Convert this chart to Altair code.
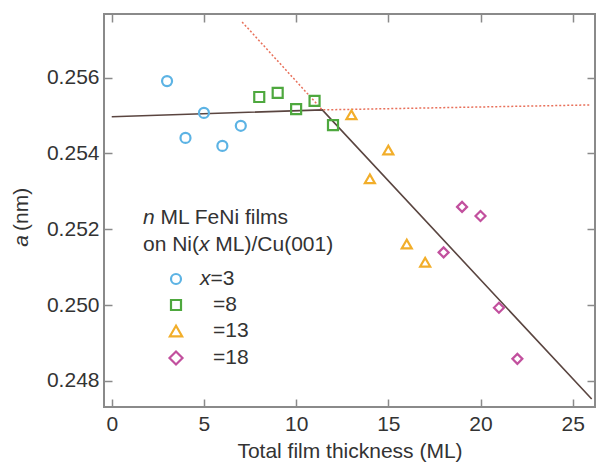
import altair as alt
import pandas as pd

# ---------------- data ----------------
series_labels = ["x=3", "=8", "=13", "=18"]

thickness_x3 = [3, 4, 5, 6, 7]
a_x3 = [0.25591, 0.25441, 0.25507, 0.25420, 0.25473]
thickness_x8 = [8, 9, 10, 11, 12]
a_x8 = [0.25549, 0.25560, 0.25517, 0.25539, 0.25475]
thickness_x13 = [13, 14, 15, 16, 17]
a_x13 = [0.25502, 0.25333, 0.25409, 0.25161, 0.25113]
thickness_x18 = [18, 19, 20, 21, 22]
a_x18 = [0.25139, 0.25259, 0.25235, 0.24993, 0.24858]

fit_x = [0, 11.42, 26.03]
fit_a = [0.25497, 0.25515, 0.24752]
ext_x = [7.07, 11.42, 25.94]
ext_a = [0.25747, 0.25515, 0.25528]

x_ticks = [0, 5, 10, 15, 20, 25]
y_ticks = [0.248, 0.250, 0.252, 0.254, 0.256]

x_title = "Total film thickness (ML)"
y_title_italic = "a"
y_title_rest = "(nm)"
legend_line1 = ["n", "ML FeNi films"]
legend_line2 = ["on Ni(", "x", "ML)/Cu(001)"]
legend_rows = [("x", "=3"), ("", "=8"), ("", "=13"), ("", "=18")]

# ---------------- styles ----------------
colors = ["#5cb3e4", "#4ea83e", "#f2ae2a", "#c2509e"]
shapes = ["circle", "square", "triangle-up", "diamond"]
sizes = [100, 100, 150, 170]
SW = 2.2
FONT = "Liberation Sans"
FS = 21
TXT = "#333333"

rows = []
for lab, xs, ys in zip(series_labels,
                       [thickness_x3, thickness_x8, thickness_x13, thickness_x18],
                       [a_x3, a_x8, a_x13, a_x18]):
    for xv, yv in zip(xs, ys):
        rows.append({"thickness": xv, "a": yv, "series": lab})
df_pts = pd.DataFrame(rows)
df_fit = pd.DataFrame({"x": fit_x, "a": fit_a})
df_ext = pd.DataFrame({"x": ext_x, "a": ext_a})

x_scale = alt.Scale(domain=[-0.42, 26.21], nice=False, zero=False)
y_scale = alt.Scale(domain=[0.24731, 0.25768], nice=False, zero=False)
shape_scale = alt.Scale(domain=series_labels, range=shapes)
color_scale = alt.Scale(domain=series_labels, range=colors)
size_scale = alt.Scale(domain=series_labels, range=sizes)

points = alt.Chart(df_pts).mark_point(filled=False, strokeWidth=SW, opacity=1).encode(
    x=alt.X("thickness:Q", scale=x_scale,
            axis=alt.Axis(orient="bottom", values=x_ticks, tickSize=8, offset=-8,
                          domain=False, grid=False, labelPadding=6, format="d",
                          title=x_title, titlePadding=6)),
    y=alt.Y("a:Q", scale=y_scale,
            axis=alt.Axis(orient="left", values=y_ticks, tickSize=8, offset=-8,
                          domain=False, grid=False, labelPadding=5, format=".3f",
                          title=None)),
    shape=alt.Shape("series:N", scale=shape_scale, legend=None),
    color=alt.Color("series:N", scale=color_scale, legend=None),
    size=alt.Size("series:N", scale=size_scale, legend=None),
)

fit_line = alt.Chart(df_fit).mark_line(color="#5a4540", strokeWidth=1.6).encode(
    x=alt.X("x:Q", scale=x_scale,
            axis=alt.Axis(orient="top", values=x_ticks, tickSize=8, offset=-8,
                          domain=False, grid=False, labels=False, title=None)),
    y=alt.Y("a:Q", scale=y_scale,
            axis=alt.Axis(orient="right", values=y_ticks, tickSize=8, offset=-8,
                          domain=False, grid=False, labels=False, title=None)),
)

ext_line = alt.Chart(df_ext).mark_line(color="#e8705a", strokeWidth=1.5, strokeDash=[2, 2]).encode(
    x=alt.X("x:Q", scale=x_scale, axis=None),
    y=alt.Y("a:Q", scale=y_scale, axis=None),
)

def text_layer(t, px, py, italic=False, align="left", angle=0):
    kw = dict(align=align, baseline="middle", font=FONT, fontSize=FS, color=TXT)
    if italic:
        kw["fontStyle"] = "italic"
    if angle:
        kw["angle"] = angle
    return alt.Chart(pd.DataFrame({"t": [t]})).mark_text(**kw).encode(
        x=alt.value(px), y=alt.value(py), text="t:N")

# plot origin is at (104, 14) in page pixels
L, T = 104, 14
layers = [fit_line, ext_line, points]

# legend title lines
layers.append(text_layer(legend_line1[0], 143 - L, 218 - T, italic=True))
layers.append(text_layer(legend_line1[1], 143 - L + 0.834 * FS, 218 - T))
layers.append(text_layer(legend_line2[0], 143 - L, 245 - T))
layers.append(text_layer(legend_line2[1], 143 - L + 2.667 * FS, 245 - T, italic=True))
layers.append(text_layer(legend_line2[2], 143 - L + 3.445 * FS, 245 - T))

row_y = [279, 305, 331, 358]
for i, lab in enumerate(series_labels):
    sym = alt.Chart(pd.DataFrame({"series": [lab]})).mark_point(
        filled=False, strokeWidth=SW, size=sizes[i], opacity=1,
        shape=shapes[i], color=colors[i]).encode(
        x=alt.value(176 - L), y=alt.value(row_y[i] - T))
    layers.append(sym)
    it, rest = legend_rows[i]
    if it:
        layers.append(text_layer(it, 200 - L, row_y[i] - T, italic=True))
        layers.append(text_layer(rest, 200 - L + 0.5 * FS, row_y[i] - T))
    else:
        layers.append(text_layer(rest, 213 - L, row_y[i] - T))

# y axis title (rotated, mixed italic)
layers.append(text_layer(y_title_italic, 22 - L, 241 - T, italic=True, align="center", angle=270))
layers.append(text_layer(y_title_rest, 22 - L, 231 - T, align="left", angle=270))

chart = alt.layer(*layers).resolve_axis(x="independent", y="independent").properties(
    width=491, height=393,
    autosize=alt.AutoSizeParams(type="none"),
    padding={"left": 104, "top": 14, "right": 3, "bottom": 59},
).configure_view(stroke="#8a8a8a", strokeWidth=2).configure_axis(
    tickColor="#8a8a8a", tickWidth=1.5,
    labelFont=FONT, labelFontSize=FS, labelColor=TXT,
    titleFont=FONT, titleFontSize=FS, titleColor=TXT, titleFontWeight="normal",
)

chart.save("out.html", embed_options={"renderer": "svg", "actions": False})
